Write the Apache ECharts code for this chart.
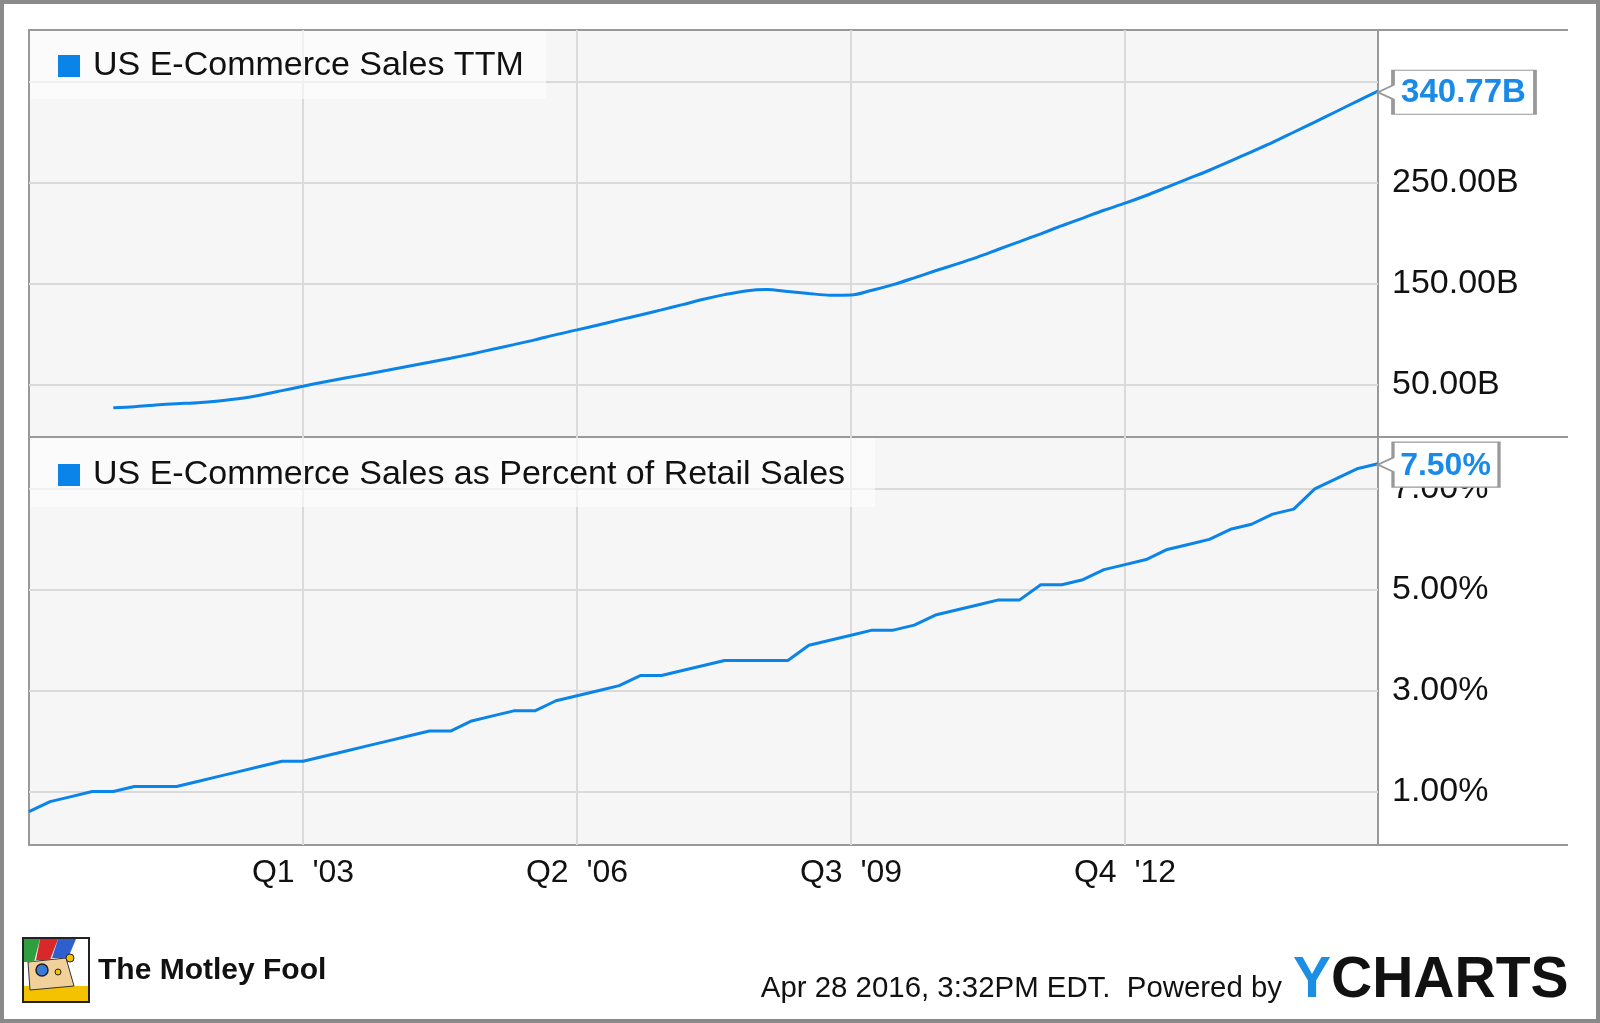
<!DOCTYPE html>
<html><head><meta charset="utf-8">
<script src="https://cdn.jsdelivr.net/npm/echarts@6/dist/echarts.min.js"></script>
<style>html,body{margin:0;padding:0;background:#fff}#c{width:1600px;height:1023px}</style>
</head><body><div id="c"></div>
<script>
// ---- data ----
const quarters = [
  "Q4  '99",
  "Q1  '00","Q2  '00","Q3  '00","Q4  '00",
  "Q1  '01","Q2  '01","Q3  '01","Q4  '01",
  "Q1  '02","Q2  '02","Q3  '02","Q4  '02",
  "Q1  '03","Q2  '03","Q3  '03","Q4  '03",
  "Q1  '04","Q2  '04","Q3  '04","Q4  '04",
  "Q1  '05","Q2  '05","Q3  '05","Q4  '05",
  "Q1  '06","Q2  '06","Q3  '06","Q4  '06",
  "Q1  '07","Q2  '07","Q3  '07","Q4  '07",
  "Q1  '08","Q2  '08","Q3  '08","Q4  '08",
  "Q1  '09","Q2  '09","Q3  '09","Q4  '09",
  "Q1  '10","Q2  '10","Q3  '10","Q4  '10",
  "Q1  '11","Q2  '11","Q3  '11","Q4  '11",
  "Q1  '12","Q2  '12","Q3  '12","Q4  '12",
  "Q1  '13","Q2  '13","Q3  '13","Q4  '13",
  "Q1  '14","Q2  '14","Q3  '14","Q4  '14",
  "Q1  '15","Q2  '15","Q3  '15","Q4  '15"
];
// US E-Commerce Sales TTM, billions USD
const salesTTM = [
  null, null, null, null, 27.5,
  28.5, 30.2, 31.5, 32.5,
  34.2, 36.5, 40.1, 44.4,
  48.7, 53.0, 56.9, 60.6,
  64.5, 68.5, 72.4, 76.4,
  80.7, 85.3, 89.9, 94.6,
  99.8, 104.5, 109.4, 114.4,
  119.3, 124.3, 129.5, 134.8,
  139.4, 143.1, 144.4, 142.4,
  140.5, 138.8, 139.0, 143.7,
  149.3, 156.0, 163.0, 169.6,
  176.6, 184.3, 191.9, 199.6,
  207.6, 215.2, 222.9, 229.9,
  237.5, 245.8, 254.2, 262.5,
  271.5, 280.8, 290.1, 300.1,
  310.1, 320.4, 330.7, 340.77
];
// US E-Commerce Sales as Percent of Retail Sales, %
const pctRetail = [
  0.6,
  0.8, 0.9, 1.0, 1.0,
  1.1, 1.1, 1.1, 1.2,
  1.3, 1.4, 1.5, 1.6,
  1.6, 1.7, 1.8, 1.9,
  2.0, 2.1, 2.2, 2.2,
  2.4, 2.5, 2.6, 2.6,
  2.8, 2.9, 3.0, 3.1,
  3.3, 3.3, 3.4, 3.5,
  3.6, 3.6, 3.6, 3.6,
  3.9, 4.0, 4.1, 4.2,
  4.2, 4.3, 4.5, 4.6,
  4.7, 4.8, 4.8, 5.1,
  5.1, 5.2, 5.4, 5.5,
  5.6, 5.8, 5.9, 6.0,
  6.2, 6.3, 6.5, 6.6,
  7.0, 7.2, 7.4, 7.5
];
const salesTicks = [50, 150, 250, 350];
const salesLabels = [50, 150, 250];      // 350.00B sits hidden under the value callout
const pctTicks = [1, 3, 5, 7];
const xLabelEvery = 13;
const nameTop = 'US E-Commerce Sales TTM';
const nameBottom = 'US E-Commerce Sales as Percent of Retail Sales';

// ---- styling ----
const FONT = 'Liberation Sans, Arial, Helvetica, sans-serif';
const BLUE = '#0a84e8';
const FRAME = '#999999';
const GRID = '#dadada';
const L = 29, R = 1378, T = 30, MID = 437, B = 845;

const showX = (idx) => idx > 0 && idx % xLabelEvery === 0;
const lastIdx = quarters.length - 1;

const chart = echarts.init(document.getElementById('c'), null, {renderer: 'canvas'});

function yAxisFor(gridIndex, min, max, ticks, labels, fmt) {
  return {
    type: 'value', gridIndex, position: 'right', min, max,
    axisLine: {show: false},
    axisTick: {show: false, customValues: ticks},
    axisLabel: {show: true, customValues: labels, margin: 14, fontSize: 34, color: '#111', fontFamily: FONT, formatter: fmt},
    splitLine: {show: true, lineStyle: {color: GRID, width: 2}}
  };
}
function xAxisFor(gridIndex, labels) {
  return {
    type: 'category', gridIndex, data: quarters, boundaryGap: false,
    axisLine: {show: false}, axisTick: {show: false},
    axisLabel: {show: labels, interval: showX, margin: 12, fontSize: 32, color: '#111', fontFamily: FONT},
    splitLine: {show: true, interval: showX, lineStyle: {color: GRID, width: 2}}
  };
}
function callout(w, h, fmt, fontSize) {
  const a = 15, hh = h / 2;
  return {
    symbol: `path://M0,${hh} L${a},${hh - 7} L${a},0 L${w},0 L${w},${h} L${a},${h} L${a},${hh + 7} Z`,
    symbolSize: [w, h],
    symbolOffset: ['50%', 1],
    silent: true,
    itemStyle: {color: '#fff', borderColor: FRAME, borderWidth: 2},
    label: {show: true, position: 'inside', offset: [7, 1], color: '#1a8ae8', fontWeight: 'bold',
            fontSize, fontFamily: FONT, formatter: fmt}
  };
}

const option = {
  animation: false,
  backgroundColor: '#fff',
  grid: [
    {left: L, top: T, width: R - L, height: MID - T, show: true, backgroundColor: '#f6f6f6', borderColor: FRAME, borderWidth: 2, containLabel: false},
    {left: L, top: MID, width: R - L, height: B - MID, show: true, backgroundColor: '#f6f6f6', borderColor: FRAME, borderWidth: 2, containLabel: false}
  ],
  xAxis: [xAxisFor(0, false), xAxisFor(1, true)],
  yAxis: [
    yAxisFor(0, -1.5, 401.3, salesTicks, salesLabels, v => v.toFixed(2) + 'B'),
    yAxisFor(1, -0.06, 8.03, pctTicks, pctTicks, v => v.toFixed(2) + '%')
  ],
  legend: [
    {data: [nameTop], left: 58, top: 49, padding: 0, icon: 'rect', itemWidth: 22, itemHeight: 22, selectedMode: false,
     textStyle: {fontSize: 34, color: '#111', fontFamily: FONT, padding: [0, 0, 0, 8]}},
    {data: [nameBottom], left: 58, top: 458, padding: 0, icon: 'rect', itemWidth: 22, itemHeight: 22, selectedMode: false,
     textStyle: {fontSize: 34, color: '#111', fontFamily: FONT, padding: [0, 0, 0, 8]}}
  ],
  series: [
    {
      name: nameTop, type: 'line', xAxisIndex: 0, yAxisIndex: 0, data: salesTTM,
      showSymbol: false, smooth: 0.3, connectNulls: false, color: BLUE,
      lineStyle: {color: BLUE, width: 3},
      markPoint: Object.assign(callout(157, 44, p => p.value.toFixed(2) + 'B', 33),
        {data: [{coord: [lastIdx, salesTTM[lastIdx]], value: salesTTM[lastIdx]}]})
    },
    {
      name: nameBottom, type: 'line', xAxisIndex: 1, yAxisIndex: 1, data: pctRetail,
      showSymbol: false, color: BLUE,
      lineStyle: {color: BLUE, width: 3},
      markPoint: Object.assign(callout(121, 45, p => p.value.toFixed(2) + '%', 32),
        {data: [{coord: [lastIdx, pctRetail[lastIdx]], value: pctRetail[lastIdx]}]})
    }
  ],
  graphic: [
    // legend background boxes
    {type: 'rect', z: 1, silent: true, shape: {x: L + 1, y: T + 1, width: 516, height: 68}, style: {fill: 'rgba(255,255,255,0.6)'}},
    {type: 'rect', z: 1, silent: true, shape: {x: L + 1, y: MID + 1, width: 845, height: 69}, style: {fill: 'rgba(255,255,255,0.6)'}},
    // frame lines extending to the right edge
    {type: 'line', z: 5, silent: true, shape: {x1: R, y1: T, x2: 1568, y2: T}, style: {stroke: FRAME, lineWidth: 2}},
    {type: 'line', z: 5, silent: true, shape: {x1: R, y1: MID, x2: 1568, y2: MID}, style: {stroke: FRAME, lineWidth: 2}},
    {type: 'line', z: 5, silent: true, shape: {x1: R, y1: B, x2: 1568, y2: B}, style: {stroke: FRAME, lineWidth: 2}},
    // outer border
    {type: 'rect', z: 10, silent: true, shape: {x: 2, y: 2, width: 1596, height: 1019}, style: {fill: 'none', stroke: '#8a8a8a', lineWidth: 4}},
    // footer
    {type: 'text', z: 5, silent: true, x: 1282, y: 989, style: {text: 'Apr 28 2016, 3:32PM EDT.  Powered by', align: 'right', verticalAlign: 'middle', font: '29.4px ' + FONT, fill: '#111'}},
    {type: 'text', z: 5, silent: true, x: 1293, y: 981, style: {text: '{y|Y}{c|CHARTS}', verticalAlign: 'middle', align: 'left',
      rich: {y: {fontSize: 57, fontWeight: 'bold', fontFamily: FONT, fill: '#1a8fe3', color: '#1a8fe3'},
             c: {fontSize: 57, fontWeight: 'bold', fontFamily: FONT, fill: '#111', color: '#111'}}}},
    {type: 'text', z: 5, silent: true, x: 98, y: 971, style: {text: 'The Motley Fool', verticalAlign: 'middle', align: 'left', font: 'bold 30px ' + FONT, fill: '#111'}},
    // Motley Fool jester mark (simple drawing)
    {type: 'group', z: 5, silent: true, children: [
      {type: 'rect', shape: {x: 23, y: 938, width: 66, height: 64}, style: {fill: '#fff', stroke: '#222', lineWidth: 2}},
      {type: 'rect', shape: {x: 24, y: 986, width: 64, height: 15}, style: {fill: '#f4c200'}},
      {type: 'polygon', shape: {points: [[28, 962], [66, 958], [74, 986], [30, 990]]}, style: {fill: '#f2d09a', stroke: '#333', lineWidth: 1}},
      {type: 'polygon', shape: {points: [[24, 939], [40, 939], [34, 962], [24, 962]]}, style: {fill: '#2e9e3e'}},
      {type: 'polygon', shape: {points: [[40, 939], [58, 939], [50, 960], [36, 960]]}, style: {fill: '#d8282a'}},
      {type: 'polygon', shape: {points: [[58, 939], [76, 939], [68, 958], [52, 958]]}, style: {fill: '#2d5fcf'}},
      {type: 'circle', shape: {cx: 42, cy: 970, r: 6}, style: {fill: '#3b7bd8', stroke: '#222', lineWidth: 1.5}},
      {type: 'circle', shape: {cx: 70, cy: 958, r: 4}, style: {fill: '#f4c200', stroke: '#222', lineWidth: 1}},
      {type: 'circle', shape: {cx: 58, cy: 972, r: 3}, style: {fill: '#f4c200', stroke: '#222', lineWidth: 1}}
    ]}
  ]
};
chart.setOption(option);
</script>
</body></html>
